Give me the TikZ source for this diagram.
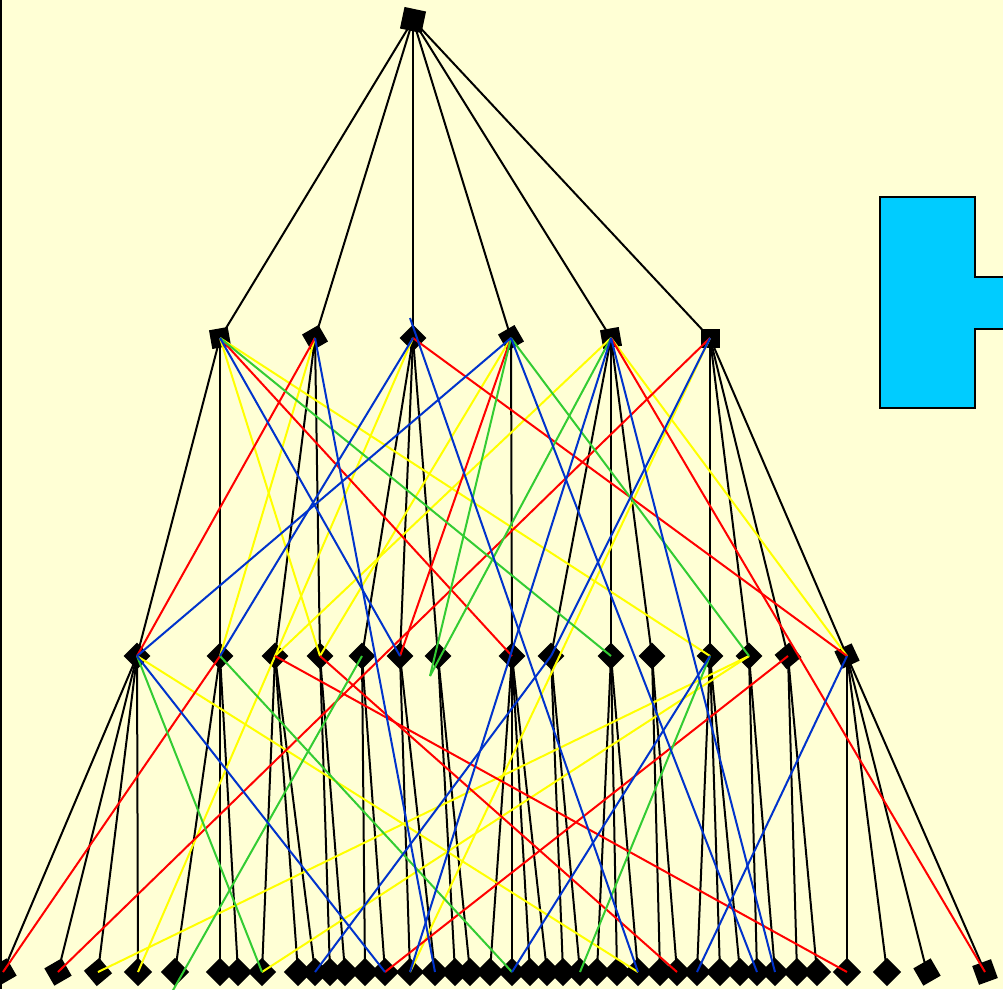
\documentclass[tikz,border=0pt]{standalone}
\definecolor{bg}{HTML}{FFFFD5}
\definecolor{cy}{HTML}{00CCFF}
\definecolor{ye}{HTML}{FFFF00}
\definecolor{rd}{HTML}{FF0000}
\definecolor{gn}{HTML}{33CC33}
\definecolor{bl}{HTML}{0033CC}
\begin{document}
\begin{tikzpicture}[x=1pt,y=-1pt,
  nd/.style={rectangle,fill=black,inner sep=0pt,minimum size=19pt,rotate=#1},
  nd/.default=45,
  bk/.style={draw=black,line width=2pt},
  ey/.style={draw=ye,line width=2pt},
  er/.style={draw=rd,line width=2pt},
  eg/.style={draw=gn,line width=2pt},
  eb/.style={draw=bl,line width=2pt}]
\fill[bg] (0,0) rectangle (1003,989);
\useasboundingbox (0,0) rectangle (1003,989);
\draw[black,line width=2pt] (1,0) -- (1,989);
% blue shape
\draw[fill=cy,line width=2pt] (880,197) -- (975,197) -- (975,277) -- (1010,277) -- (1010,329) -- (975,329) -- (975,408) -- (880,408) -- cycle;
% coordinates (free ends)
\coordinate (g1) at (430,676);
\coordinate (g2) at (172,992);
\coordinate (b0) at (410,318);
\path (413,20) coordinate (pT);
\foreach \i/\x in {1/220,2/315,3/413,4/511,5/611,6/710}
  \coordinate (pA\i) at (\x,338);
\foreach \i/\x in {1/137,2/220,3/275,4/320,5/362,6/400,7/438,8/512,9/551,10/611,11/652,12/710,13/749,14/788,15/847}
  \coordinate (pB\i) at (\x,656);
\foreach \i/\x in {1/3,2/58,3/98,4/138,5/175,6/220,7/238,8/262,9/298,10/315,11/330,12/345,13/365,14/385,15/410,16/435,17/455,18/470,19/490,20/512,21/530,22/547,23/563,24/580,25/597,26/617,27/638,28/660,29/677,30/697,31/720,32/740,33/757,34/775,35/797,36/817,37/847,38/887,39/927,40/985}
  \coordinate (pC\i) at (\x,972);
% black edges
\foreach \i in {1,...,6} \draw[bk] (pT) -- (pA\i);
\foreach \a/\b in {1/1,1/2,2/3,2/4,3/5,3/6,3/7,4/8,5/9,5/10,5/11,6/12,6/13,6/14,6/15}
  \draw[bk] (pA\a) -- (pB\b);
\foreach \a/\b in {1/1,1/2,1/3,1/4,2/5,2/6,2/7,3/8,3/9,3/10,4/11,4/12,5/13,5/14,6/15,6/16,7/17,7/18,8/19,8/20,8/21,8/22,9/23,9/24,10/25,10/26,10/27,11/28,11/29,12/30,12/31,12/32,13/33,13/34,14/35,14/36,15/37,15/38,15/39,15/40}
  \draw[bk] (pB\a) -- (pC\b);
% nodes
\node[nd=-12,minimum size=22pt] (T) at (pT) {};
\foreach \i/\r in {1/10,2/30,3/45,4/30,5/10,6/0}
  \node[nd=\r] (A\i) at (pA\i) {};
\foreach \i/\r in {1/45,2/45,3/45,4/45,5/45,6/45,7/45,8/45,9/45,10/45,11/45,12/45,13/45,14/40,15/25}
  \node[nd=\r] (B\i) at (pB\i) {};
\foreach \i/\r in {1/30,2/30,3/40,4/45,5/45,6/45,7/45,8/45,9/45,10/45,11/45,12/45,13/45,14/45,15/45,16/45,17/45,18/45,19/45,20/45,21/45,22/45,23/45,24/45,25/45,26/45,27/45,28/45,29/45,30/45,31/45,32/45,33/45,34/45,35/45,36/45,37/45,38/45,39/30,40/20}
  \node[nd=\r,minimum size=20pt] (C\i) at (pC\i) {};
% coloured edges
\draw[ey] (A1.center) -- (B4.center);
\draw[ey] (A1.center) -- (B12.center);
\draw[ey] (A2.center) -- (B2.center);
\draw[ey] (A3.center) -- (C4.center);
\draw[ey] (A4.center) -- (B4.center);
\draw[ey] (A5.center) -- (B3.center);
\draw[ey] (A5.center) -- (B15.center);
\draw[ey] (A6.center) -- (C15.center);
\draw[ey] (B1.center) -- (C27.center);
\draw[ey] (B13.center) -- (C3.center);
\draw[ey] (B13.center) -- (C8.center);
\draw[er] (A1.center) -- (B8.center);
\draw[er] (A2.center) -- (B1.center);
\draw[er] (A3.center) -- (B15.center);
\draw[er] (A4.center) -- (B6.center);
\draw[er] (A5.center) -- (C40.center);
\draw[er] (A6.center) -- (C2.center);
\draw[er] (B2.center) -- (C1.center);
\draw[er] (B3.center) -- (C37.center);
\draw[er] (B4.center) -- (C29.center);
\draw[er] (B14.center) -- (C14.center);
\draw[eg] (A1.center) -- (B10.center);
\draw[eg] (A4.center) -- (g1);
\draw[eg] (A5.center) -- (g1);
\draw[eg] (A4.center) -- (B13.center);
\draw[eg] (B1.center) -- (C8.center);
\draw[eg] (B2.center) -- (C20.center);
\draw[eg] (B5.center) -- (g2);
\draw[eg] (B12.center) -- (C24.center);
\draw[eb] (A1.center) -- (B6.center);
\draw[eb] (A2.center) -- (C16.center);
\draw[eb] (b0) -- (C27.center);
\draw[eb] (A3.center) -- (B2.center);
\draw[eb] (B1.center) -- (A4.center);
\draw[eb] (A4.center) -- (C33.center);
\draw[eb] (A5.center) -- (C15.center);
\draw[eb] (A5.center) -- (C34.center);
\draw[eb] (A6.center) -- (B9.center);
\draw[eb] (B9.center) -- (C10.center);
\draw[eb] (B1.center) -- (C14.center);
\draw[eb] (B12.center) -- (C20.center);
\draw[eb] (B15.center) -- (C30.center);
\end{tikzpicture}
\end{document}
